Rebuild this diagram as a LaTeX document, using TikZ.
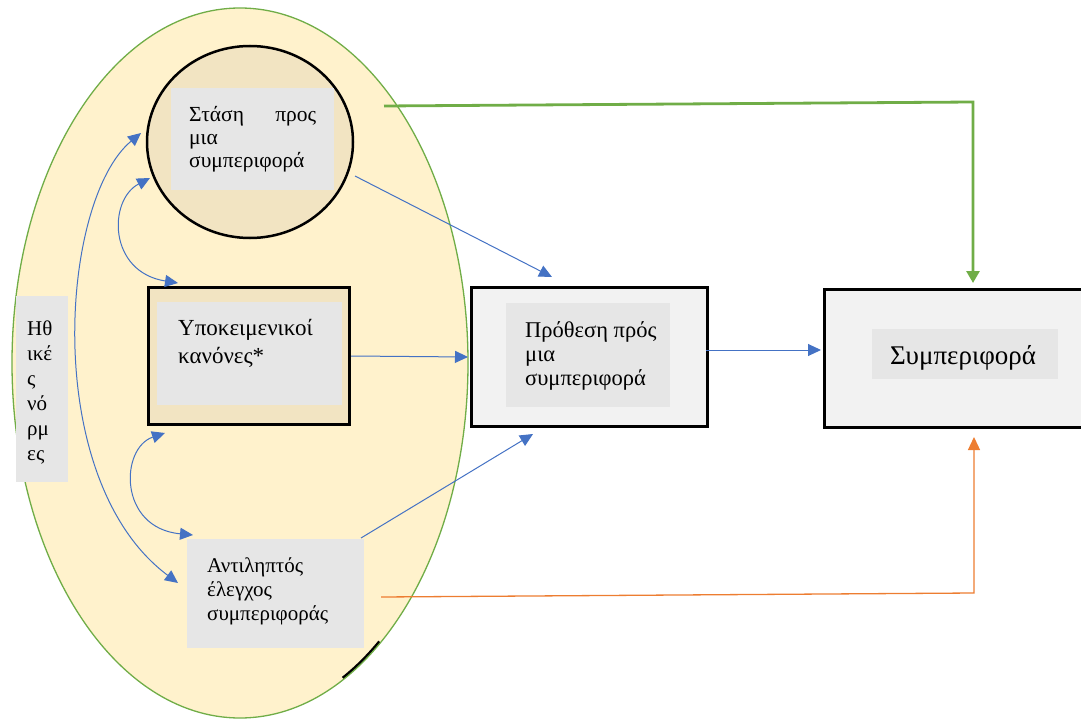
\documentclass[tikz,border=0pt]{standalone}
\usepackage{fontspec}
\setmainfont{Liberation Serif}
\usetikzlibrary{arrows.meta,shapes.geometric}
\definecolor{egg}{HTML}{FFF2CC}
\definecolor{eggline}{HTML}{70AD47}
\definecolor{tanfill}{HTML}{F2E4C2}
\definecolor{innergray}{HTML}{E6E6E6}
\definecolor{palegray}{HTML}{F2F2F2}
\definecolor{conn}{HTML}{4472C4}
\definecolor{orng}{HTML}{ED7D31}
\tikzset{
  blackbox/.style={draw=black, line width=3pt, rectangle, inner sep=0pt, anchor=north west},
  graybox/.style={fill=innergray, rectangle, inner sep=0pt, anchor=north west},
  txt/.style={inner sep=0pt, align=left, anchor=north west},
  tipA/.style={-{Triangle[length=13pt,width=12pt]}},
  tipAA/.style={{Triangle[length=13pt,width=12pt]}-{Triangle[length=13pt,width=12pt]}},
  blueconn/.style={draw=conn, line width=1pt},
}
\begin{document}
\begin{tikzpicture}[x=1pt,y=-1pt]
\useasboundingbox (0,0) rectangle (1081,722);
% big field
\node[fill=egg, ellipse, minimum width=456pt, minimum height=710pt, inner sep=0pt] (field) at (240,363) {};
\draw[line width=2.8pt, black] ({240+226.5*cos(52)},{363+353.5*sin(52)}) arc[start angle=52, end angle=63, x radius=226.5, y radius=353.5];
\draw[draw=eggline, line width=1.3pt] (field.center) ellipse[x radius=228, y radius=355];
% attitude circle
\node[draw=black, line width=2.5pt, fill=tanfill, ellipse, minimum width=206pt, minimum height=192pt, inner sep=0pt] (att) at (250,142) {};
\node[graybox, minimum width=163pt, minimum height=102pt] (attin) at (171,88) {};
\node[txt, font=\fontsize{21.5}{23}\selectfont] (atttx) at (189,105) {\strut\hbox to 127pt{Στάση\hfill προς}\\μια\\συμπεριφορά};
% subjective norms
\node[blackbox, fill=tanfill, minimum width=201pt, minimum height=137pt] (subj) at (147,286) {};
\node[graybox, minimum width=185pt, minimum height=103pt] (subjin) at (157,302) {};
\node[txt, font=\fontsize{23}{28}\selectfont] (subjtx) at (178,315.4) {\strut Υποκειμενικοί\\κανόνες*};
% intention
\node[blackbox, fill=palegray, minimum width=236pt, minimum height=139pt] (int) at (470,286) {};
\node[graybox, minimum width=164pt, minimum height=104pt] (intin) at (506,303) {};
\node[txt, font=\fontsize{22.5}{24}\selectfont] (inttx) at (525,320.2) {\strut Πρόθεση πρός\\μια\\συμπεριφορά};
% behaviour
\node[blackbox, fill=palegray, minimum width=262pt, minimum height=138pt] (beh) at (823,288) {};
\node[graybox, minimum width=186pt, minimum height=50pt] (behin) at (872,329) {};
\node[inner sep=0pt, anchor=base, font=\fontsize{27}{30}\selectfont] (behtx) at (963,364) {Συμπεριφορά};
% moral norms
\node[graybox, minimum width=52pt, minimum height=186pt] (moral) at (16,296) {};
\node[txt, font=\fontsize{21}{25}\selectfont] (moraltx) at (27,317.5) {\strut Ηθ\\ικέ\\ς\\νό\\ρμ\\ες};
% perceived control
\node[graybox, minimum width=177pt, minimum height=109pt] (ctrl) at (187,539) {};
\node[txt, font=\fontsize{21}{24}\selectfont] (ctrltx) at (207,555.2) {\strut Αντιληπτός\\έλεγχος\\συμπεριφοράς};
% connector end points
\coordinate (attout) at (355,176);
\coordinate (intin1) at (552,277);
\coordinate (ctrlout) at (361,538);
\coordinate (intin2) at (533,434);
\coordinate (intout) at (706,350);
\coordinate (behin1) at (821,350);
\coordinate (gstart) at (384,106);
\coordinate (gcorner) at (973,102);
\coordinate (gend) at (973,283);
\coordinate (ostart) at (381,597);
\coordinate (ocorner) at (974,593);
\coordinate (oend) at (974,437);
\coordinate (c1a) at (150,178);
\coordinate (c1b) at (178,283);
\coordinate (c2a) at (165,433);
\coordinate (c2b) at (193,535);
\coordinate (c3a) at (141,133);
\coordinate (c3b) at (178,583);
% connectors
\draw[draw=eggline, line width=2.8pt, -{Triangle[length=12pt,width=13pt]}] (gstart) -- (gcorner) -- (gend);
\draw[blueconn, tipA] (attout) -- (intin1);
\draw[blueconn, tipA] (subj.east) -- ([xshift=-2pt]int.west);
\draw[blueconn, tipA] (intout) -- (behin1);
\draw[blueconn, tipA] (ctrlout) -- (intin2);
\draw[draw=orng, line width=1.3pt, -{Triangle[length=13pt,width=12pt]}] (ostart) -- (ocorner) -- (oend);
\draw[blueconn, tipAA] (c1a) .. controls (108,200) and (108,272) .. (c1b);
\draw[blueconn, tipAA] (c2a) .. controls (120,448) and (118,528) .. (c2b);
\draw[blueconn, tipAA] (c3a) .. controls (60,200) and (40,480) .. (c3b);
\end{tikzpicture}
\end{document}
